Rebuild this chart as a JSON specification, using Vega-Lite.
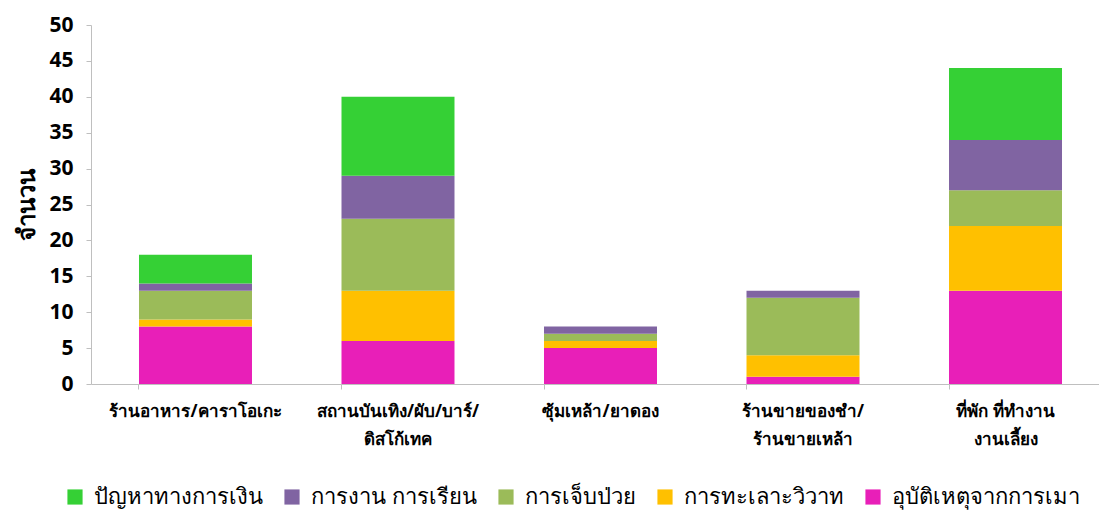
{
  "$schema": "https://vega.github.io/schema/vega-lite/v6.json",
  "width": 1019,
  "height": 359,
  "autosize": {"type": "none"},
  "padding": {"left": 91, "top": 25, "right": 0, "bottom": 129},
  "background": "white",
  "config": {
    "view": {"stroke": null},
    "font": "Noto Sans"
  },
  "data": {
    "values": [
      {"place": "ร้านอาหาร/คาราโอเกะ", "cause": "อุบัติเหตุจากการเมา", "k": 1, "n": 8},
      {"place": "ร้านอาหาร/คาราโอเกะ", "cause": "การทะเลาะวิวาท", "k": 2, "n": 1},
      {"place": "ร้านอาหาร/คาราโอเกะ", "cause": "การเจ็บป่วย", "k": 3, "n": 4},
      {"place": "ร้านอาหาร/คาราโอเกะ", "cause": "การงาน การเรียน", "k": 4, "n": 1},
      {"place": "ร้านอาหาร/คาราโอเกะ", "cause": "ปัญหาทางการเงิน", "k": 5, "n": 4},
      {"place": "สถานบันเทิง/ผับ/บาร์/|ดิสโก้เทค", "cause": "อุบัติเหตุจากการเมา", "k": 1, "n": 6},
      {"place": "สถานบันเทิง/ผับ/บาร์/|ดิสโก้เทค", "cause": "การทะเลาะวิวาท", "k": 2, "n": 7},
      {"place": "สถานบันเทิง/ผับ/บาร์/|ดิสโก้เทค", "cause": "การเจ็บป่วย", "k": 3, "n": 10},
      {"place": "สถานบันเทิง/ผับ/บาร์/|ดิสโก้เทค", "cause": "การงาน การเรียน", "k": 4, "n": 6},
      {"place": "สถานบันเทิง/ผับ/บาร์/|ดิสโก้เทค", "cause": "ปัญหาทางการเงิน", "k": 5, "n": 11},
      {"place": "ซุ้มเหล้า/ยาดอง", "cause": "อุบัติเหตุจากการเมา", "k": 1, "n": 5},
      {"place": "ซุ้มเหล้า/ยาดอง", "cause": "การทะเลาะวิวาท", "k": 2, "n": 1},
      {"place": "ซุ้มเหล้า/ยาดอง", "cause": "การเจ็บป่วย", "k": 3, "n": 1},
      {"place": "ซุ้มเหล้า/ยาดอง", "cause": "การงาน การเรียน", "k": 4, "n": 1},
      {"place": "ร้านขายของชำ/|ร้านขายเหล้า", "cause": "อุบัติเหตุจากการเมา", "k": 1, "n": 1},
      {"place": "ร้านขายของชำ/|ร้านขายเหล้า", "cause": "การทะเลาะวิวาท", "k": 2, "n": 3},
      {"place": "ร้านขายของชำ/|ร้านขายเหล้า", "cause": "การเจ็บป่วย", "k": 3, "n": 8},
      {"place": "ร้านขายของชำ/|ร้านขายเหล้า", "cause": "การงาน การเรียน", "k": 4, "n": 1},
      {"place": "ที่พัก ที่ทำงาน|งานเลี้ยง", "cause": "อุบัติเหตุจากการเมา", "k": 1, "n": 13},
      {"place": "ที่พัก ที่ทำงาน|งานเลี้ยง", "cause": "การทะเลาะวิวาท", "k": 2, "n": 9},
      {"place": "ที่พัก ที่ทำงาน|งานเลี้ยง", "cause": "การเจ็บป่วย", "k": 3, "n": 5},
      {"place": "ที่พัก ที่ทำงาน|งานเลี้ยง", "cause": "การงาน การเรียน", "k": 4, "n": 7},
      {"place": "ที่พัก ที่ทำงาน|งานเลี้ยง", "cause": "ปัญหาทางการเงิน", "k": 5, "n": 10}
    ]
  },
  "mark": {"type": "bar"},
  "encoding": {
    "x": {
      "field": "place",
      "type": "nominal",
      "sort": null,
      "scale": {"paddingInner": 0.442, "paddingOuter": 0.237},
      "axis": {
        "title": null,
        "labelAngle": 0,
        "labelExpr": "split(datum.label, '|')",
        "labelFont": "Noto Sans",
        "labelFontSize": 17,
        "labelFontWeight": "bold",
        "labelColor": "black",
        "labelBaseline": "top",
        "labelLineHeight": 28,
        "labelPadding": 14,
        "bandPosition": 0,
        "tickSize": 5,
        "tickColor": "#bfbfbf",
        "domainColor": "#bfbfbf",
        "labelLimit": 300
      }
    },
    "y": {
      "field": "n",
      "type": "quantitative",
      "stack": "zero",
      "scale": {"domain": [0, 50]},
      "axis": {
        "title": "จำนวน",
        "titleFont": "Noto Sans",
        "titleFontSize": 24,
        "titleFontWeight": "bold",
        "titleColor": "black",
        "titlePadding": 9,
        "values": [0, 5, 10, 15, 20, 25, 30, 35, 40, 45, 50],
        "grid": false,
        "labelFont": "Noto Sans",
        "labelFontSize": 21,
        "labelFontWeight": "bold",
        "labelColor": "black",
        "labelPadding": 13,
        "tickSize": 5,
        "tickColor": "#bfbfbf",
        "domainColor": "#bfbfbf"
      }
    },
    "color": {
      "field": "cause",
      "type": "nominal",
      "scale": {
        "domain": ["ปัญหาทางการเงิน", "การงาน การเรียน", "การเจ็บป่วย", "การทะเลาะวิวาท", "อุบัติเหตุจากการเมา"],
        "range": ["#35d035", "#8064a2", "#9bbb59", "#ffc000", "#e81fb8"]
      },
      "legend": {
        "title": null,
        "orient": "none",
        "direction": "horizontal",
        "legendX": -27,
        "legendY": 461,
        "symbolType": "square",
        "symbolSize": 230,
        "symbolStrokeWidth": 0,
        "symbolOpacity": 1,
        "labelFont": "Noto Sans",
        "labelFontSize": 22,
        "labelColor": "black",
        "labelLimit": 400,
        "columnPadding": 18,
        "labelOffset": 8
      }
    },
    "order": {"field": "k", "type": "quantitative", "sort": "ascending"}
  }
}
